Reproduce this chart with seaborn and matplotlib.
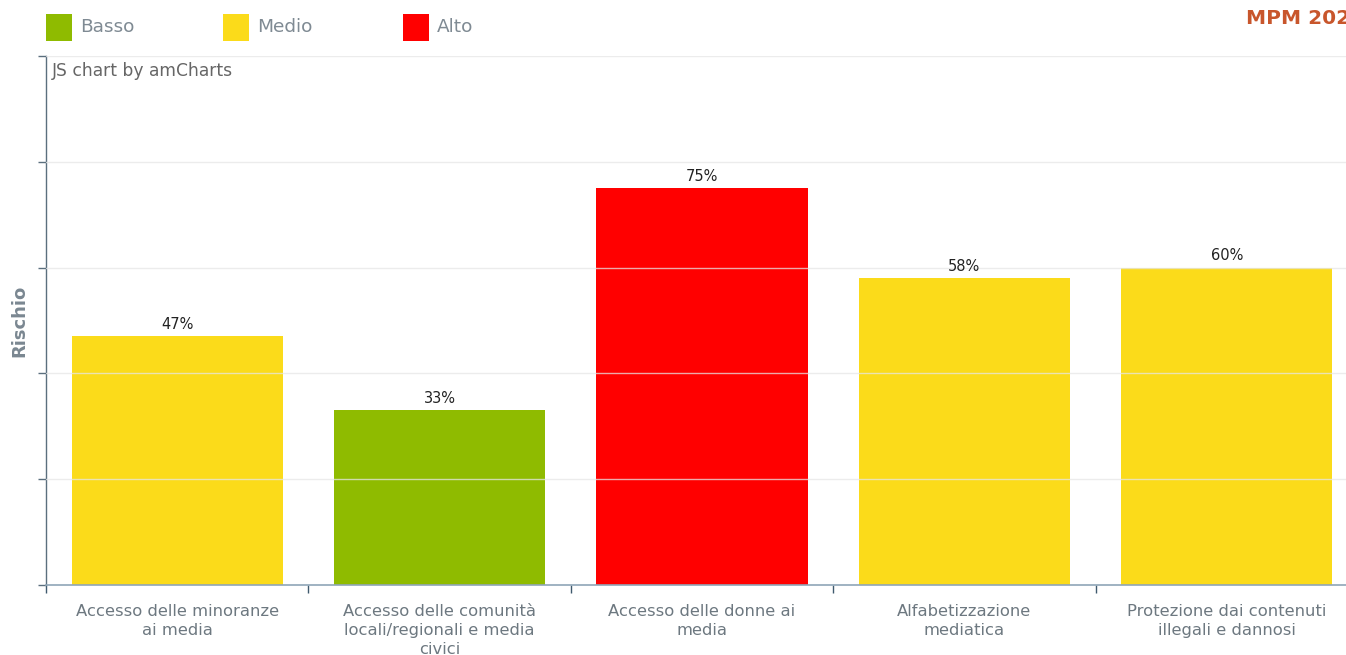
import matplotlib
matplotlib.use("Agg")
import matplotlib.pyplot as plt
from matplotlib.patches import Rectangle
import seaborn as sns
import pandas as pd

categories = [
    "Accesso delle minoranze\nai media",
    "Accesso delle comunità\nlocali/regionali e media\ncivici",
    "Accesso delle donne ai\nmedia",
    "Alfabetizzazione\nmediatica",
    "Protezione dai contenuti\nillegali e dannosi",
]
values = [47, 33, 75, 58, 60]
levels = ["Medio", "Basso", "Alto", "Medio", "Medio"]
level_names = ["Basso", "Medio", "Alto"]
level_colors = ["#8fbb00", "#fbdb1a", "#ff0000"]

sns.set_theme(style="white")
plt.rcParams["font.family"] = ["DejaVu Sans"]

W, H = 1346, 655
fig = plt.figure(figsize=(W / 100, H / 100), dpi=100)
ax_left, ax_right, ax_top, ax_bottom = 46, 1358, 56, 585
ax = fig.add_axes([ax_left / W, 1 - ax_bottom / H,
                   (ax_right - ax_left) / W, (ax_bottom - ax_top) / H])

df = pd.DataFrame({"cat": categories, "val": values, "lvl": levels})
palette = dict(zip(level_names, level_colors))
sns.barplot(data=df, x="cat", y="val", hue="lvl", palette=palette,
            dodge=False, width=0.805, legend=False, ax=ax, saturation=1,
            zorder=2, linewidth=0)

ax.set_xlim(-0.5, len(categories) - 0.5)
ax.set_ylim(0, 100)

# grid
ax.set_yticks([0, 20, 40, 60, 80, 100])
ax.set_yticklabels([])
for y in [20, 40, 60, 80, 100]:
    ax.axhline(y, color="#e6e6e6", lw=1, alpha=0.75, zorder=3)
ax.tick_params(axis="y", which="major", direction="out", length=6,
               width=1, color="#5b6f7e", left=True)

# x ticks: labels at centers, tick marks at boundaries
ax.set_xticks(range(len(categories)))
ax.set_xticklabels(categories, fontsize=11.8, color="#6d7880", linespacing=1.3)
ax.tick_params(axis="x", which="major", length=0, pad=14)
ax.set_xticks([i - 0.5 for i in range(len(categories) + 1)], minor=True)
ax.tick_params(axis="x", which="minor", direction="out", length=6,
               width=1, color="#3f5a6e", bottom=True)

for s in ["top", "right"]:
    ax.spines[s].set_visible(False)
ax.spines["left"].set_color("#5b6f7e")
ax.spines["bottom"].set_color("#8fa6b8")
ax.spines["left"].set_linewidth(1)
ax.spines["bottom"].set_linewidth(1.2)

ax.set_xlabel("")
ax.set_ylabel("Rischio", fontsize=13, fontweight="bold", color="#7a8791",
              labelpad=3)

# value labels
for i, v in enumerate(values):
    ax.annotate(f"{v}%", (i, v), xytext=(0, 3), textcoords="offset points",
                ha="center", va="bottom", fontsize=10.5, color="#222222")

# watermark
fig.text(52 / W, 1 - 71 / H, "JS chart by amCharts", fontsize=12.3,
         color="#666666", va="center", ha="left")

# legend
leg_x = [46, 223, 403]
for x, name, col in zip(leg_x, level_names, level_colors):
    fig.add_artist(Rectangle((x / W, 1 - 41 / H), 26 / W, 27 / H,
                             transform=fig.transFigure, color=col, lw=0))
    fig.text((x + 34) / W, 1 - 27 / H, name, fontsize=13.3,
             color="#7f8a93", va="center", ha="left")

# title (clipped at right edge, as in the reference)
fig.text(1246 / W, 1 - 18 / H, "MPM 2023", fontsize=14.5,
         fontweight="bold", color="#c8562c", va="center", ha="left")

fig.savefig("out.png", dpi=100)
